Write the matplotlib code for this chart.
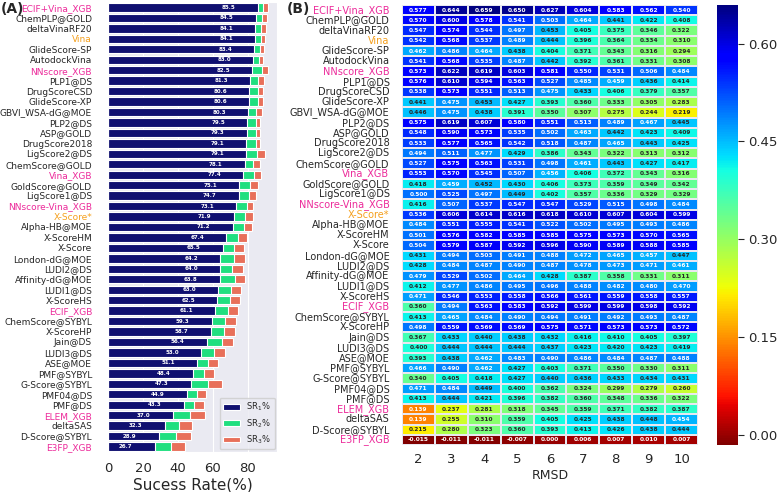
import numpy as np
import matplotlib
matplotlib.use("Agg")
import matplotlib.pyplot as plt
import seaborn as sns

# 打分函数名称（自上而下）
names = ["ECIF+Vina_XGB", "ChemPLP@GOLD", "deltaVinaRF20", "Vina", "GlideScore-SP",
         "AutodockVina", "NNscore_XGB", "PLP1@DS", "DrugScoreCSD", "GlideScore-XP",
         "GBVI_WSA-dG@MOE", "PLP2@DS", "ASP@GOLD", "DrugScore2018", "LigScore2@DS",
         "ChemScore@GOLD", "Vina_XGB", "GoldScore@GOLD", "LigScore1@DS", "NNscore-Vina_XGB",
         "X-Score*", "Alpha-HB@MOE", "X-ScoreHM", "X-Score", "London-dG@MOE",
         "LUDI2@DS", "Affinity-dG@MOE", "LUDI1@DS", "X-ScoreHS", "ECIF_XGB",
         "ChemScore@SYBYL", "X-ScoreHP", "Jain@DS", "LUDI3@DS", "ASE@MOE",
         "PMF@SYBYL", "G-Score@SYBYL", "PMF04@DS", "PMF@DS", "ELEM_XGB",
         "deltaSAS", "D-Score@SYBYL", "E3FP_XGB"]
pink_names = ["ECIF+Vina_XGB", "NNscore_XGB", "Vina_XGB", "NNscore-Vina_XGB",
              "ECIF_XGB", "ELEM_XGB", "E3FP_XGB"]
orange_names = ["Vina", "X-Score*"]

# 成功率（累计）
sr1 = [85.5, 84.5, 84.1, 84.1, 83.4, 83.0, 82.5, 81.3, 80.6, 80.6,
       80.3, 79.5, 79.3, 79.1, 79.1, 78.1, 77.4, 75.1, 74.7, 73.1,
       71.9, 71.2, 67.4, 65.5, 64.2, 64.0, 63.8, 63.0, 62.5, 61.1,
       59.3, 58.7, 56.4, 53.0, 51.1, 48.4, 47.3, 44.9, 43.3, 37.0,
       32.3, 28.9, 26.7]
sr2 = [88.7, 88.0, 87.5, 87.3, 87.0, 86.5, 87.8, 85.9, 85.9, 85.9,
       84.6, 84.6, 84.6, 84.6, 85.3, 82.7, 83.4, 81.1, 80.8, 79.2,
       78.3, 77.7, 74.5, 72.2, 72.2, 71.0, 72.6, 70.3, 69.7, 68.4,
       66.9, 66.3, 65.0, 60.6, 57.3, 54.7, 57.0, 50.9, 49.3, 46.9,
       40.8, 38.9, 36.0]
sr3 = [91.6, 90.7, 90.1, 89.7, 89.3, 88.7, 91.3, 89.3, 88.7, 88.7,
       87.8, 87.0, 86.9, 86.9, 89.7, 86.9, 87.4, 85.5, 84.6, 82.7,
       82.7, 82.1, 79.6, 77.9, 78.3, 77.0, 78.5, 76.2, 75.4, 74.3,
       73.1, 72.6, 71.6, 67.0, 63.0, 60.6, 65.3, 56.0, 54.9, 55.2,
       48.0, 47.6, 44.0]

# 不同RMSD阈值下的相关系数
rmsd = [2, 3, 4, 5, 6, 7, 8, 9, 10]
corr = [
    [0.577, 0.644, 0.659, 0.650, 0.627, 0.604, 0.583, 0.562, 0.540],
    [0.570, 0.600, 0.578, 0.541, 0.503, 0.464, 0.441, 0.422, 0.408],
    [0.547, 0.574, 0.544, 0.497, 0.453, 0.405, 0.375, 0.346, 0.322],
    [0.542, 0.568, 0.537, 0.489, 0.444, 0.396, 0.364, 0.334, 0.310],
    [0.462, 0.486, 0.464, 0.438, 0.404, 0.371, 0.343, 0.316, 0.294],
    [0.541, 0.568, 0.535, 0.487, 0.442, 0.392, 0.361, 0.331, 0.308],
    [0.573, 0.622, 0.619, 0.603, 0.581, 0.550, 0.531, 0.506, 0.484],
    [0.576, 0.610, 0.594, 0.563, 0.527, 0.485, 0.459, 0.436, 0.414],
    [0.538, 0.573, 0.551, 0.513, 0.475, 0.433, 0.406, 0.379, 0.357],
    [0.441, 0.475, 0.453, 0.427, 0.393, 0.360, 0.333, 0.305, 0.283],
    [0.446, 0.475, 0.438, 0.391, 0.350, 0.307, 0.275, 0.244, 0.219],
    [0.575, 0.619, 0.607, 0.580, 0.551, 0.513, 0.489, 0.467, 0.445],
    [0.548, 0.590, 0.573, 0.535, 0.502, 0.463, 0.442, 0.423, 0.409],
    [0.533, 0.577, 0.565, 0.542, 0.518, 0.487, 0.465, 0.443, 0.425],
    [0.494, 0.511, 0.477, 0.429, 0.386, 0.343, 0.322, 0.313, 0.312],
    [0.527, 0.575, 0.563, 0.531, 0.498, 0.461, 0.443, 0.427, 0.417],
    [0.553, 0.570, 0.545, 0.507, 0.456, 0.406, 0.372, 0.343, 0.316],
    [0.418, 0.459, 0.452, 0.430, 0.406, 0.373, 0.359, 0.349, 0.342],
    [0.500, 0.525, 0.497, 0.449, 0.402, 0.357, 0.336, 0.329, 0.329],
    [0.416, 0.507, 0.537, 0.547, 0.547, 0.529, 0.515, 0.498, 0.484],
    [0.536, 0.606, 0.614, 0.616, 0.618, 0.610, 0.607, 0.604, 0.599],
    [0.484, 0.551, 0.555, 0.541, 0.522, 0.502, 0.495, 0.493, 0.486],
    [0.501, 0.576, 0.582, 0.585, 0.585, 0.575, 0.573, 0.570, 0.565],
    [0.504, 0.579, 0.587, 0.592, 0.596, 0.590, 0.589, 0.588, 0.585],
    [0.431, 0.494, 0.503, 0.491, 0.488, 0.472, 0.465, 0.457, 0.447],
    [0.428, 0.484, 0.487, 0.490, 0.487, 0.478, 0.473, 0.471, 0.461],
    [0.479, 0.529, 0.502, 0.464, 0.428, 0.387, 0.358, 0.331, 0.311],
    [0.412, 0.477, 0.486, 0.495, 0.496, 0.488, 0.482, 0.480, 0.470],
    [0.471, 0.546, 0.553, 0.558, 0.566, 0.561, 0.559, 0.558, 0.557],
    [0.360, 0.494, 0.563, 0.583, 0.592, 0.599, 0.599, 0.598, 0.592],
    [0.413, 0.465, 0.484, 0.490, 0.494, 0.491, 0.492, 0.493, 0.487],
    [0.498, 0.559, 0.569, 0.569, 0.575, 0.571, 0.573, 0.573, 0.572],
    [0.367, 0.433, 0.440, 0.438, 0.432, 0.416, 0.410, 0.405, 0.397],
    [0.400, 0.444, 0.444, 0.444, 0.437, 0.423, 0.420, 0.423, 0.419],
    [0.393, 0.438, 0.462, 0.483, 0.490, 0.486, 0.484, 0.487, 0.488],
    [0.466, 0.490, 0.462, 0.427, 0.403, 0.371, 0.350, 0.330, 0.311],
    [0.340, 0.405, 0.418, 0.427, 0.440, 0.436, 0.433, 0.434, 0.431],
    [0.471, 0.484, 0.449, 0.400, 0.362, 0.324, 0.299, 0.279, 0.260],
    [0.413, 0.444, 0.421, 0.396, 0.382, 0.360, 0.348, 0.336, 0.322],
    [0.139, 0.237, 0.281, 0.318, 0.345, 0.359, 0.371, 0.382, 0.387],
    [0.139, 0.255, 0.310, 0.359, 0.405, 0.425, 0.438, 0.448, 0.454],
    [0.215, 0.280, 0.323, 0.360, 0.393, 0.413, 0.426, 0.438, 0.444],
    [-0.015, -0.011, -0.011, -0.007, 0.000, 0.006, 0.007, 0.010, 0.007],
]

sns.set_style("darkgrid")
plt.rcParams["font.family"] = ["DejaVu Sans"]

W, H = 784, 492
fig = plt.figure(figsize=(W / 100, H / 100), dpi=100)
axA = fig.add_axes([108 / W, 1 - 451.75 / H, 169 / W, 449.5 / H])
axB = fig.add_axes([402 / W, 1 - 445 / H, 296 / W, 440 / H])
cax = fig.add_axes([717 / W, 1 - 445 / H, 21 / W, 440 / H])


def label_color(name):
    if name in pink_names:
        return "#ec2a9a"
    if name in orange_names:
        return "#f5a01e"
    return "0.15"


# (A) 成功率条形图
y = np.arange(len(names))
axA.barh(y, sr3, height=0.8, color="#e8705a", edgecolor="white", linewidth=0.8, label="SR$_3$%")
axA.barh(y, sr2, height=0.8, color="#20df7f", edgecolor="white", linewidth=0.8, label="SR$_2$%")
axA.barh(y, sr1, height=0.8, color="#101070", edgecolor="white", linewidth=0.8, label="SR$_1$%")
for i, v in enumerate(sr1):
    axA.text(v - 16.5, i, f"{v:.1f}", color="white", fontsize=4, fontweight="bold",
             ha="center", va="center")
axA.set_ylim(len(names) - 0.5, -0.5)
axA.set_xlim(0, 96.6)
axA.set_xticks([0, 20, 40, 60, 80])
axA.set_yticks(y)
axA.set_yticklabels(names, fontsize=6.5)
for lab in axA.get_yticklabels():
    lab.set_color(label_color(lab.get_text()))
axA.grid(axis="y", visible=False)
axA.tick_params(axis="x", labelsize=9.5, pad=4)
axA.tick_params(axis="y", pad=8)
axA.set_xlabel("Sucess Rate(%)", fontsize=11, labelpad=2)
handles, labels = axA.get_legend_handles_labels()
axA.legend(handles[::-1], labels[::-1], loc="lower right", fontsize=6,
           borderaxespad=0.3, handlelength=2.0, labelspacing=0.45)
fig.text(0.001, 0.995, "(A)", fontsize=10, fontweight="bold", va="top", ha="left")

# (B) 热图
sns.heatmap(np.array(corr), ax=axB, cbar_ax=cax, cmap="jet_r", annot=True, fmt=".3f",
            annot_kws={"size": 4.2, "weight": "bold"}, linewidths=0.3, linecolor="#e8e8f0",
            xticklabels=rmsd, yticklabels=names)
axB.set_yticklabels(names, fontsize=7, rotation=0)
for lab in axB.get_yticklabels():
    lab.set_color(label_color(lab.get_text()))
axB.tick_params(axis="y", length=0, pad=9)
axB.tick_params(axis="x", length=0, labelsize=9.5, pad=6)
axB.set_xlabel("RMSD", fontsize=9, labelpad=2)
cax.set_yticks([0.0, 0.15, 0.30, 0.45, 0.60])
cax.set_yticklabels(["0.00", "0.15", "0.30", "0.45", "0.60"])
cax.tick_params(labelsize=9.5, length=4)
fig.text(287 / W, 0.995, "(B)", fontsize=10, fontweight="bold", va="top", ha="left")

fig.savefig("out.png", dpi=100)
